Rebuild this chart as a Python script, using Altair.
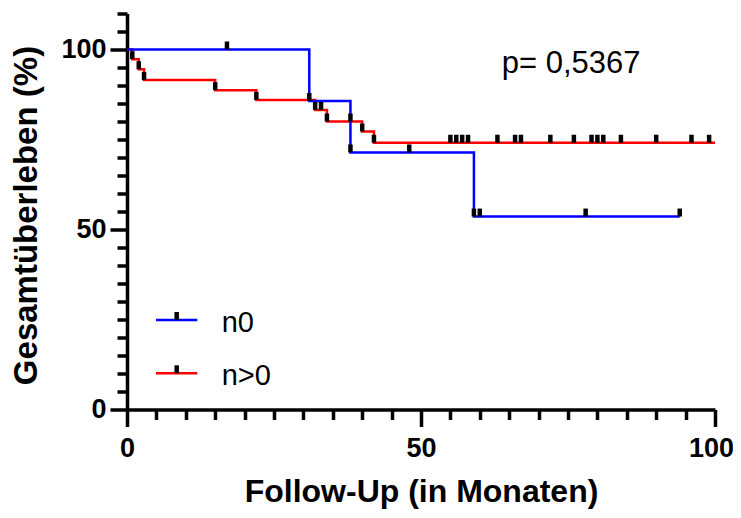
import altair as alt
import pandas as pd

# ---- data ----
groups = ["n0", "n>0"]
colors = ["#0000FF", "#FF0000"]

n0_time = [0, 31, 38, 59, 94]
n0_surv = [100, 85.7, 71.4, 53.6, 53.6]
n0_cens_time = [17, 31, 38, 48, 59, 60, 78, 94]
n0_cens_surv = [100, 85.7, 71.4, 71.4, 53.6, 53.6, 53.6, 53.6]

n1_time = [0, 0.9, 2.0, 2.9, 15, 22, 32, 34, 40, 42, 100]
n1_surv = [100, 97.3, 94.5, 91.5, 88.7, 86.0, 83.2, 80.0, 77.2, 74.1, 74.1]
n1_cens_time = [0.9, 2.0, 2.9, 15, 22, 32, 33, 34, 38, 40,
                42, 55, 56, 57, 58, 63, 66, 67, 72, 76, 79, 80, 81, 84, 90, 96, 99]
n1_cens_surv = [97.3, 94.5, 91.5, 88.7, 86.0, 83.2, 83.2, 80.0, 80.0, 77.2,
                74.1, 74.1, 74.1, 74.1, 74.1, 74.1, 74.1, 74.1, 74.1, 74.1,
                74.1, 74.1, 74.1, 74.1, 74.1, 74.1, 74.1]

x_ticks = [0, 5, 10, 15, 20, 25, 30, 35, 40, 45, 50, 55, 60, 65, 70, 75, 80, 85, 90, 95, 100]
y_ticks = [0, 5, 10, 15, 20, 25, 30, 35, 40, 45, 50, 55, 60, 65, 70, 75, 80, 85, 90, 95, 100, 105, 110]
p_text = "p= 0,5367"
x_title = "Follow-Up (in Monaten)"
y_title = "Gesamtüberleben (%)"

FONT = "Liberation Sans"

df_n0 = pd.DataFrame({"t": n0_time, "s": n0_surv})
df_n1 = pd.DataFrame({"t": n1_time, "s": n1_surv})
dc_n0 = pd.DataFrame({"t": n0_cens_time, "s": n0_cens_surv})
dc_n1 = pd.DataFrame({"t": n1_cens_time, "s": n1_cens_surv})

xs = alt.Scale(domain=[0, 100], nice=False, zero=False)
ys = alt.Scale(domain=[0, 110], nice=False, zero=False)

major = "datum.value % 50 === 0"

x_axis = alt.Axis(
    values=x_ticks, title=x_title, grid=False, tickCount=21,
    labelExpr=f"{major} ? datum.label : ''",
    tickSize={"condition": {"test": major, "value": 17}, "value": 10},
    labelOffset={"condition": {"test": "datum.value === 100", "value": -4}, "value": 0},
    labelFlush=False, labelOverlap=False, labelPadding=9,
    titleX=294, titleY=92, titleBaseline="alphabetic", titleAlign="center",
    titleFontSize=32,
)
y_axis = alt.Axis(
    values=y_ticks, title=y_title, grid=False, tickCount=23,
    labelExpr=f"{major} ? datum.label : ''",
    tickSize={"condition": {"test": major, "value": 17}, "value": 10},
    labelFlush=False, labelOverlap=False, labelPadding=4,
    titleX=-91, titleY=201.5, titleBaseline="alphabetic", titleAlign="center", titleAngle=270,
    titleFontSize=33,
)

X = alt.X("t:Q", scale=xs, axis=x_axis)
Y = alt.Y("s:Q", scale=ys, axis=y_axis)

tick_shape = "M-0.28,-1L0.28,-1L0.28,0L-0.28,0Z"

line_red = alt.Chart(df_n1).mark_line(interpolate="step-after", strokeWidth=2.5, color=colors[1]).encode(x=X, y=Y)
line_blue = alt.Chart(df_n0).mark_line(interpolate="step-after", strokeWidth=2.5, color=colors[0]).encode(x=X, y=Y)
cens_red = alt.Chart(dc_n1).mark_point(shape=tick_shape, size=256, filled=True, color="black",
                                       strokeWidth=0, opacity=1).encode(x=X, y=Y)
cens_blue = alt.Chart(dc_n0).mark_point(shape=tick_shape, size=256, filled=True, color="black",
                                        strokeWidth=0, opacity=1).encode(x=X, y=Y)

one = pd.DataFrame({"k": [0]})

p_label = alt.Chart(one).mark_text(text=p_text, font=FONT, fontSize=31, align="left",
                                   baseline="alphabetic", color="black").encode(
    x=alt.value(374.7), y=alt.value(59.8))

leg_layers = []
leg_y = [306.5, 359.8]
for i, g in enumerate(groups):
    leg_layers.append(alt.Chart(one).mark_rule(color=colors[i], strokeWidth=2.5).encode(
        x=alt.value(29), x2=alt.value(70.3), y=alt.value(leg_y[i])))
    leg_layers.append(alt.Chart(one).mark_point(shape=tick_shape, size=256, filled=True, color="black",
                                                strokeWidth=0, opacity=1).encode(
        x=alt.value(49.7), y=alt.value(leg_y[i])))
    leg_layers.append(alt.Chart(one).mark_text(text=g, font=FONT, fontSize=29, align="left",
                                               baseline="alphabetic", color="black").encode(
        x=alt.value(94.7), y=alt.value(leg_y[i] + 11.5)))

chart = alt.layer(line_red, line_blue, cens_red, cens_blue, p_label, *leg_layers).properties(
    width=588, height=396,
    padding={"left": 119, "top": 5.5, "right": 18, "bottom": 99},
    autosize=alt.AutoSizeParams(type="none"),
).configure_view(stroke=None).configure_axis(
    domainColor="black", domainWidth=3.5, tickColor="black", tickWidth=3.5,
    labelFont=FONT, labelFontWeight="bold", labelFontSize=27, labelColor="black",
    titleFont=FONT, titleFontWeight="bold", titleColor="black",
)

chart.save("out.html", embed_options={"renderer": "svg", "actions": False})
